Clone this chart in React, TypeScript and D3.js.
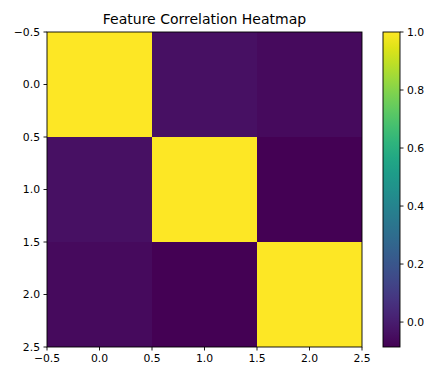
import React from "react";
import * as d3 from "d3";

const rowIndex = [0, 1, 2];
const colIndex = [0, 1, 2];
const matrix: number[][] = [
  [1.0, -0.04, -0.06],
  [-0.04, 1.0, -0.086],
  [-0.06, -0.086, 1.0],
];
const axisTicks = [-0.5, 0.0, 0.5, 1.0, 1.5, 2.0, 2.5];
const cbarTicks = [0.0, 0.2, 0.4, 0.6, 0.8, 1.0];
const title = "Feature Correlation Heatmap";

export default function App() {
  const W = 425, H = 367;
  const L = 47, R = 362, T = 32, B = 347;
  const cbL = 383, cbR = 400;
  const font = "DejaVu Sans, sans-serif";
  const fs = 10.8;
  const tl = 3.5;
  const pad = 3.5;

  const vals = matrix.flat();
  const vmin = d3.min(vals)!;
  const vmax = d3.max(vals)!;
  const color = d3.scaleSequential(d3.interpolateViridis).domain([vmin, vmax]);

  const x = d3.scaleLinear().domain([-0.5, 2.5]).range([L, R]);
  const y = d3.scaleLinear().domain([-0.5, 2.5]).range([T, B]);
  const cy = d3.scaleLinear().domain([vmin, vmax]).range([B, T]);

  const stops = d3.range(0, 1.0001, 0.05);
  const fmt = (v: number) => (v < 0 ? "\u2212" : "") + Math.abs(v).toFixed(1);

  return (
    <svg width={W} height={H} style={{ position: "absolute", left: 0, top: 0 }}>
      <rect width={W} height={H} fill="#fff" />
      <defs>
        <linearGradient id="cb" x1="0" y1="1" x2="0" y2="0">
          {stops.map((s) => (
            <stop key={s} offset={s} stopColor={d3.interpolateViridis(s)} />
          ))}
        </linearGradient>
      </defs>
      <text x={(L + R) / 2} y={24} textAnchor="middle" fontFamily={font} fontSize={14} fill="#000">
        {title}
      </text>
      {rowIndex.map((r) =>
        colIndex.map((c) => (
          <rect
            key={`${r}-${c}`}
            x={x(c - 0.5)}
            y={y(r - 0.5)}
            width={x(c + 0.5) - x(c - 0.5)}
            height={y(r + 0.5) - y(r - 0.5)}
            fill={color(matrix[r][c])}
          />
        ))
      )}
      <rect x={L} y={T} width={R - L} height={B - T} fill="none" stroke="#000" strokeWidth={0.9} />
      {axisTicks.map((t) => (
        <g key={"x" + t}>
          <line x1={x(t)} x2={x(t)} y1={B} y2={B + tl} stroke="#000" strokeWidth={0.9} />
          <text x={x(t)} y={B + tl + pad + fs * 0.76} textAnchor="middle" fontFamily={font} fontSize={fs} fill="#000">
            {fmt(t)}
          </text>
        </g>
      ))}
      {axisTicks.map((t) => (
        <g key={"y" + t}>
          <line x1={L - tl} x2={L} y1={y(t)} y2={y(t)} stroke="#000" strokeWidth={0.9} />
          <text x={L - tl - pad} y={y(t) + fs * 0.36} textAnchor="end" fontFamily={font} fontSize={fs} fill="#000">
            {fmt(t)}
          </text>
        </g>
      ))}
      <rect x={cbL} y={T} width={cbR - cbL} height={B - T} fill="url(#cb)" />
      <rect x={cbL} y={T} width={cbR - cbL} height={B - T} fill="none" stroke="#000" strokeWidth={0.9} />
      {cbarTicks.map((t) => (
        <g key={"c" + t}>
          <line x1={cbR} x2={cbR + tl} y1={cy(t)} y2={cy(t)} stroke="#000" strokeWidth={0.9} />
          <text x={cbR + tl + pad} y={cy(t) + fs * 0.36} textAnchor="start" fontFamily={font} fontSize={fs} fill="#000">
            {fmt(t)}
          </text>
        </g>
      ))}
    </svg>
  );
}
